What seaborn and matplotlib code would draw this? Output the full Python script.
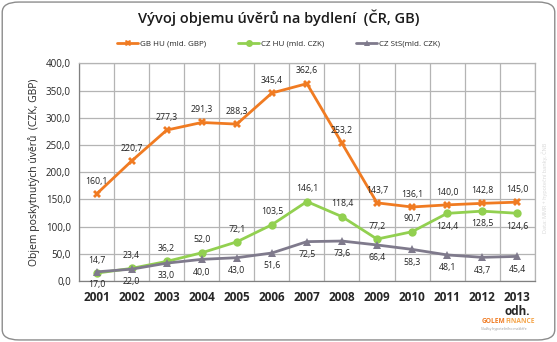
import matplotlib
matplotlib.use("Agg")
import matplotlib.pyplot as plt
import seaborn as sns
import pandas as pd
import numpy as np
from matplotlib.patches import FancyBboxPatch
from matplotlib.lines import Line2D

years = ["2001", "2002", "2003", "2004", "2005", "2006", "2007",
         "2008", "2009", "2010", "2011", "2012", "2013\nodh."]
gb_hu = [160.1, 220.7, 277.3, 291.3, 288.3, 345.4, 362.6, 253.2, 143.7, 136.1, 140.0, 142.8, 145.0]
cz_hu = [14.7, 23.4, 36.2, 52.0, 72.1, 103.5, 146.1, 118.4, 77.2, 90.7, 124.4, 128.5, 124.6]
cz_sts = [17.0, 22.0, 33.0, 40.0, 43.0, 51.6, 72.5, 73.6, 66.4, 58.3, 48.1, 43.7, 45.4]
series_names = ["GB HU (mld. GBP)", "CZ HU (mld. CZK)", "CZ StS(mld. CZK)"]
y_ticks = [0, 50, 100, 150, 200, 250, 300, 350, 400]
# label position of the CZ HU values: above (+1) or below (-1) the point
cz_hu_label_side = [1, 1, 1, 1, 1, 1, 1, 1, 1, 1, -1, -1, -1]

colors = {"GB HU (mld. GBP)": "#F07B22", "CZ HU (mld. CZK)": "#92D050", "CZ StS(mld. CZK)": "#7F7A8C"}
markers = {"GB HU (mld. GBP)": "X", "CZ HU (mld. CZK)": "o", "CZ StS(mld. CZK)": "^"}

sns.set_theme(style="white")
plt.rcParams['font.family'] = ['Open Sans', 'DejaVu Sans']

df = pd.concat([
    pd.DataFrame({"rok": years, "hodnota": vals, "serie": name})
    for name, vals in zip(series_names, [gb_hu, cz_hu, cz_sts])
])

fig = plt.figure(figsize=(5.57, 3.42), dpi=100)
fig.patch.set_facecolor("white")
border = FancyBboxPatch((0.004, 0.006), 0.992, 0.988, boxstyle="round,pad=0,rounding_size=0.03",
                        transform=fig.transFigure, fill=False, edgecolor="#8C8C8C", linewidth=1.0)
fig.patches.append(border)

ax = fig.add_axes([0.142, 0.178, 0.818, 0.637])
sns.lineplot(data=df, x="rok", y="hodnota", hue="serie", style="serie",
             palette=colors, markers=markers, dashes=False, sort=False,
             linewidth=2.0, markersize=6, markeredgewidth=0, ax=ax, legend=False)

ax.set_xlim(-0.5, len(years) - 0.5)
ax.set_ylim(0, 400)
ax.set_yticks(y_ticks)
ax.set_yticklabels([f"{v:.1f}".replace(".", ",") for v in y_ticks], fontsize=7)
ax.set_xticks(range(len(years)))
ax.set_xticklabels(years, fontsize=8.5, fontweight="bold", linespacing=1.15, va="top")
ax.set_xticks(np.arange(-0.5, len(years), 1), minor=True)
ax.tick_params(axis="x", which="major", length=0, pad=7)
ax.tick_params(axis="x", which="minor", length=4, color="#808080", direction="out")
ax.tick_params(axis="y", length=4, color="#808080", pad=2)
ax.grid(True, axis="y", color="#B4B4B4", linewidth=0.9)
ax.grid(True, axis="x", which="minor", color="#B4B4B4", linewidth=0.9)
ax.set_axisbelow(True)
for s in ax.spines.values():
    s.set_color("#B4B4B4")
    s.set_linewidth(0.9)
ax.spines["bottom"].set_color("#808080")
ax.spines["left"].set_color("#808080")
ax.set_xlabel("")
ax.set_ylabel("Objem poskytnutých úvěrů  (CZK, GBP)", fontsize=7.5, labelpad=4)

def fmt(v):
    return f"{v:.1f}".replace(".", ",")

for i, v in enumerate(gb_hu):
    ax.annotate(fmt(v), (i, v), xytext=(0, 6), textcoords="offset points",
                ha="center", va="bottom", fontsize=6.3, color="#222222")
for i, v in enumerate(cz_hu):
    side = cz_hu_label_side[i]
    ax.annotate(fmt(v), (i, v), xytext=(0, 6 * side), textcoords="offset points",
                ha="center", va="bottom" if side > 0 else "top", fontsize=6.3, color="#222222")
for i, v in enumerate(cz_sts):
    ax.annotate(fmt(v), (i, v), xytext=(0, -6), textcoords="offset points",
                ha="center", va="top", fontsize=6.3, color="#222222")

fig.text(0.5, 0.948, "Vývoj objemu úvěrů na bydlení  (ČR, GB)", ha="center", va="center",
         fontsize=10.5, fontweight="semibold", color="#1a1a1a")

handles = [Line2D([0], [0], color=colors[n], marker=markers[n], linewidth=2, markersize=5,
                  markeredgewidth=0) for n in series_names]
fig.legend(handles, series_names, loc="center", bbox_to_anchor=(0.5, 0.872), ncol=3,
           frameon=False, fontsize=5.8, handlelength=2.6, columnspacing=4.0, handletextpad=0.2)

fig.text(0.978, 0.45, "Data: MMR + hypoteční banky, ČNB", rotation=90, ha="center", va="center",
         fontsize=4, color="#D8D8D8")
fig.text(0.907, 0.060, "GOLEM", ha="right", va="center", fontsize=4.8, fontweight="bold", color="#F07B22")
fig.text(0.907, 0.060, "FINANCE", ha="left", va="center", fontsize=4.8, fontweight="bold", color="#F5A54A")
fig.text(0.905, 0.038, "Služby hypotečního makléře", ha="center", va="center", fontsize=2.5, color="#999999")

fig.savefig("out.png", dpi=100)
